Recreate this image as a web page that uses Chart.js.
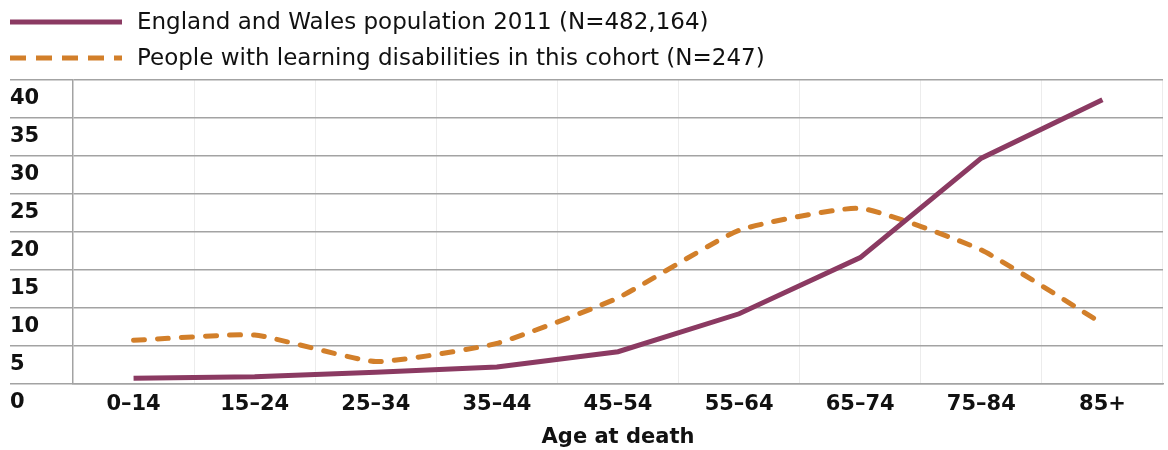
<!DOCTYPE html>
<html>
<head>
<meta charset="utf-8">
<script src="https://cdn.jsdelivr.net/npm/chart.js@4.4.1/dist/chart.umd.min.js"></script>
<style>
  html, body { margin: 0; padding: 0; background: #fff; }
  #chart-container { width: 1168px; height: 450px; }
</style>
</head>
<body>
<div id="chart-container"><canvas id="ld-chart"></canvas></div>
<script>
// age bands on the x axis
var ageBands = ['0\u201314', '15\u201324', '25\u201334', '35\u201344', '45\u201354', '55\u201364', '65\u201374', '75\u201384', '85+'];
// % of deaths in each age band
var englandWales = [0.7, 0.9, 1.5, 2.2, 4.2, 9.2, 16.6, 29.7, 37.4];
var ldCohort = [5.7, 6.4, 2.9, 5.3, 11.3, 20.2, 23.1, 17.6, 7.9];
var yTicks = [0, 5, 10, 15, 20, 25, 30, 35, 40];

var gridGrey = '#a3a3a3';
var fontFamily = 'DejaVu Sans';

// legend drawn as two rows at the top left, line sample then text
var lineLegend = {
    id: 'lineLegend',
    afterDraw: function(chart) {
        var c = chart.ctx;
        c.save();
        chart.data.datasets.forEach(function(ds, i) {
            var y = 22 + i * 36;
            c.beginPath();
            c.strokeStyle = ds.borderColor;
            c.lineWidth = 5;
            c.lineCap = 'butt';
            c.setLineDash(ds.borderDash ? [16, 16/1.6] : []);
            c.moveTo(10, y);
            c.lineTo(122, y);
            c.stroke();
            c.setLineDash([]);
            c.fillStyle = '#111';
            c.font = '23px "' + fontFamily + '"';
            c.textBaseline = 'middle';
            c.textAlign = 'left';
            c.fillText(ds.label, 137, y + 1);
        });
        c.restore();
    }
};

var ctx = document.getElementById('ld-chart');
var ldChart = new Chart(ctx, {
    type: 'line',
    data: {
        labels: ageBands,
        datasets: [{
            label: 'England and Wales population 2011 (N=482,164)',
            data: englandWales,
            borderColor: '#8b3a62',
            backgroundColor: '#8b3a62',
            borderWidth: 5,
            pointRadius: 0,
            tension: 0
        }, {
            label: 'People with learning disabilities in this cohort (N=247)',
            data: ldCohort,
            borderColor: '#d27f2a',
            backgroundColor: '#d27f2a',
            borderWidth: 5,
            borderDash: [11, 13],
            borderCapStyle: 'round',
            pointRadius: 0,
            tension: 0.15
        }]
    },
    plugins: [lineLegend],
    options: {
        responsive: true,
        maintainAspectRatio: false,
        animation: false,
        layout: { padding: { left: 10, right: 5, top: 80, bottom: 0 } },
        plugins: {
            tooltip: { enabled: false },
            legend: { display: false }
        },
        scales: {
            x: {
                offset: true,
                grid: { offset: true, color: '#ececec', lineWidth: 1, drawTicks: false },
                border: { display: true, color: gridGrey, width: 1.5 },
                ticks: {
                    padding: 8,
                    color: '#111',
                    font: { family: fontFamily, size: 21, weight: 'bold' }
                },
                title: {
                    display: true,
                    text: 'Age at death',
                    color: '#111',
                    padding: { top: 0, bottom: 0 },
                    font: { family: fontFamily, size: 21, weight: 'bold' }
                }
            },
            y: {
                min: 0,
                max: 40,
                afterBuildTicks: function(scale) {
                    scale.ticks = yTicks.map(function(v) { return { value: v }; });
                },
                afterFit: function(scale) { scale.width = 63; },
                grid: { color: gridGrey, lineWidth: 1.5, tickLength: 63 },
                border: { display: true, color: gridGrey, width: 1.5 },
                ticks: {
                    crossAlign: 'far',
                    labelOffset: 19,
                    padding: 0,
                    color: '#111',
                    font: { family: fontFamily, size: 21, weight: 'bold' }
                }
            }
        }
    }
});
</script>
</body>
</html>
